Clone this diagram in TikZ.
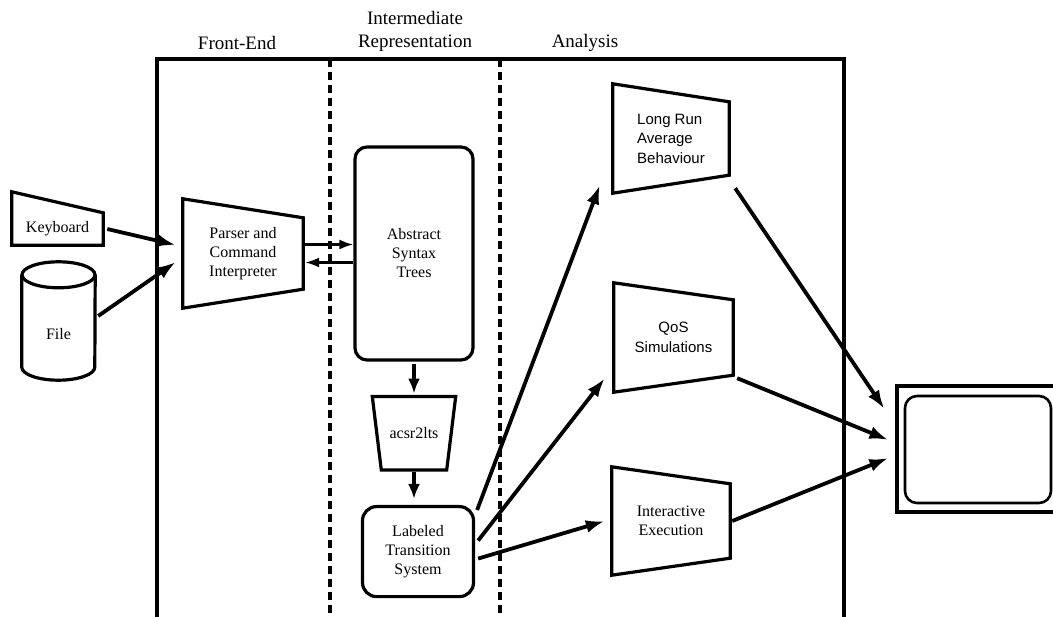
\documentclass[tikz,border=0pt]{standalone}
\usepackage{fontspec}
\setmainfont{Liberation Serif}
\setsansfont{Liberation Sans}
\usetikzlibrary{arrows.meta,positioning}
\tikzset{
  basic/.style   = {inner sep=0pt, align=center, font=\fontsize{16}{19}\selectfont},
  block/.style   = {basic, draw, line width=3.2pt, rounded corners=12pt},
  sans/.style    = {basic, font=\sffamily\fontsize{15}{19.5}\selectfont},
  outline/.style = {line width=3.2pt, line join=miter},
  lane/.style    = {line width=3.4pt},
  title/.style   = {align=center, font=\fontsize{19}{23}\selectfont},
  flow/.style    = {->, line width=3.8pt},
  down flow/.style = {->, line width=3.4pt, >={Latex[length=15pt,width=12pt]}},
  thin flow/.style = {->, line width=2.4pt, >={Latex[length=14pt,width=10pt]}}
}
\newcommand{\slantbox}[2]{%
  \draw[outline] (#1.north west) -- ([yshift=-#2]#1.north east)
    -- ([yshift=#2]#1.south east) -- (#1.south west) -- cycle;}

\begin{document}
\begin{tikzpicture}[x=1pt, y=-1pt, >={Latex[length=19pt,width=13pt]}]
\useasboundingbox (0,0) rectangle (1053,617);
\clip (0,0) rectangle (1053,617);

% lanes
\draw[lane] (157,630) |- (844,59) -- (844,630);
\draw[lane, dash pattern=on 8pt off 5pt] (330,59) -- (330,630);
\draw[lane, dash pattern=on 8pt off 5pt] (500,59) -- (500,630);
\node[title] (fe) at (237,43) {Front-End};
\node[title] (ir) at (415,31) {Intermediate\\Representation};
\node[title] (an) at (585,43) {Analysis};

% inputs
\node[basic, minimum width=91pt, minimum height=32pt] (kbd) at (57.5,229) {Keyboard};
\draw[outline] ([yshift=21pt]kbd.north west) -- (kbd.north east)
  -- (kbd.south east) -- (kbd.south west) -- cycle;
\node[basic, minimum width=73pt, minimum height=92pt] (file) at (58.5,334) {File};
\draw[outline] ([yshift=13pt]file.north west) -- ([yshift=13pt]file.south west)
  arc[start angle=180, end angle=360, x radius=36.5pt, y radius=13pt]
  -- ([yshift=13pt]file.north east);
\draw[outline] ([yshift=13pt]file.north) ellipse[x radius=36.5pt, y radius=13pt];

% front-end and intermediate representation
\node[basic, minimum width=120pt, minimum height=109pt] (parser) at (243,253.5)
  {Parser and\\Command\\Interpreter};
\slantbox{parser}{19pt}
\node[block, minimum width=118pt, minimum height=213pt] (ast) at (414,253.5)
  {Abstract\\Syntax\\Trees};
\node[basic, minimum width=83pt, minimum height=73pt, below=35pt of ast] (acsr) {acsr2lts};
\draw[outline] (acsr.north west) -- (acsr.north east)
  -- ([xshift=-9pt]acsr.south east) -- ([xshift=9pt]acsr.south west) -- cycle;
\node[block, rounded corners=14pt, minimum width=111pt, minimum height=90pt,
  below=35pt of acsr, xshift=4pt] (lts) {Labeled\\Transition\\System};

% analysis
\node[sans, align=left, minimum width=116pt, minimum height=109pt] (lrab) at (671,138.5)
  {Long Run\\Average\\Behaviour};
\slantbox{lrab}{18pt}
\node[sans, minimum width=119pt, minimum height=109pt] (qos) at (673.5,337.5)
  {QoS\\Simulations};
\slantbox{qos}{17pt}
\node[basic, minimum width=118pt, minimum height=108pt] (exec) at (671,521)
  {Interactive\\Execution};
\slantbox{exec}{17pt}

% output
\node[draw, line width=3.2pt, minimum width=180pt, minimum height=126pt] (monitor) at (987,449) {};
\node[block, line width=2.6pt, minimum width=146pt, minimum height=107pt] (screen) at (978,449.5) {};

% connectors
\draw[flow] ([xshift=4pt]kbd.east) -- ([shift={(-7pt,8.5pt)}]parser.west);
\draw[flow] ([shift={(3pt,18pt)}]file.east) -- ([shift={(-7pt,-8.5pt)}]parser.west);
\draw[thin flow] ([shift={(2pt,9pt)}]parser.east) -- ([yshift=9pt]ast.west);
\draw[thin flow] ([yshift=-9pt]ast.west) -- ([shift={(2pt,-9pt)}]parser.east);
\draw[down flow, shorten <=2pt, shorten >=3pt] (ast.south) -- (acsr.north);
\draw[down flow, shorten <=2pt, shorten >=6pt] (acsr.south) -- (acsr.south |- lts.north);
\draw[flow] ([shift={(2pt,-5pt)}]lts.north east) -- ([shift={(-13pt,8pt)}]lrab.south west);
\draw[flow] ([shift={(3pt,11pt)}]lts.east) -- ([shift={(-9pt,14pt)}]qos.south west);
\draw[flow] ([shift={(3pt,-7pt)}]lts.east) -- ([xshift=-7pt]exec.west);
\draw[flow] ([shift={(6pt,5pt)}]lrab.south east) -- ([shift={(-11pt,40pt)}]monitor.west);
\draw[flow] ([shift={(4pt,14pt)}]qos.south east) -- ([shift={(-7pt,9pt)}]monitor.west);
\draw[flow] ([xshift=2pt]exec.east) -- ([shift={(-7pt,-9pt)}]monitor.west);
\end{tikzpicture}
\end{document}
